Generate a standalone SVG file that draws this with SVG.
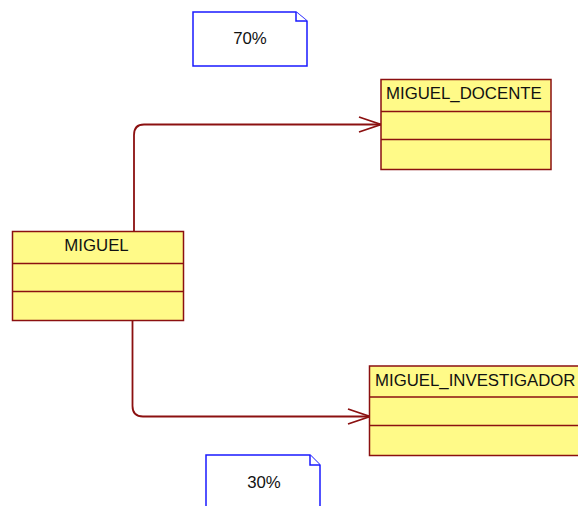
<svg xmlns="http://www.w3.org/2000/svg" width="578" height="506" viewBox="0 0 578 506">
<style>
.cls{fill:#FFFA88;stroke:#8B1010;stroke-width:1.5}
.sep{stroke:#8B1010;stroke-width:1.5}
.note{fill:#FFFFFF;stroke:#1A1AFF;stroke-width:1.5}
.lbl{font-family:"Liberation Sans",Arial,sans-serif;font-size:16.8px;fill:#111111}
.con{fill:none;stroke:#8B1010;stroke-width:1.8}
</style>
<rect width="578" height="506" fill="#FFFFFF"/>
<g id="note70">
<path class="note" d="M193,12 H296 L307,21 V66 H193 Z"/>
<path class="note" d="M296,12 V21 H307"/>
<text class="lbl" x="250" y="44" text-anchor="middle">70%</text>
</g>
<g id="note30">
<path class="note" d="M206,455 H310 L320,465 V510 H206 Z"/>
<path class="note" d="M310,455 V465 H320"/>
<text class="lbl" x="264" y="488" text-anchor="middle">30%</text>
</g>
<g id="connectors">
<path class="con" d="M134,231 V135 Q134,124.5 144,124.5 H381"/>
<path class="con" d="M359,117 L381,124.5 L359,132"/>
<path class="con" d="M132.5,321 V406 Q132.5,416.5 143,416.5 H370"/>
<path class="con" d="M348,409 L370,416.5 L348,424"/>
</g>
<g id="MIGUEL_DOCENTE">
<rect class="cls" x="381" y="79.5" width="170" height="90"/>
<line class="sep" x1="381" y1="111.5" x2="551" y2="111.5"/>
<line class="sep" x1="381" y1="139.5" x2="551" y2="139.5"/>
<text class="lbl" x="386" y="99">MIGUEL_DOCENTE</text>
</g>
<g id="MIGUEL">
<rect class="cls" x="12.5" y="231.5" width="171" height="89"/>
<line class="sep" x1="12.5" y1="263.5" x2="183.5" y2="263.5"/>
<line class="sep" x1="12.5" y1="291.5" x2="183.5" y2="291.5"/>
<text class="lbl" x="96.5" y="251" text-anchor="middle">MIGUEL</text>
</g>
<g id="MIGUEL_INVESTIGADOR">
<rect class="cls" x="369.5" y="366" width="220" height="89.5"/>
<line class="sep" x1="369.5" y1="397" x2="589" y2="397"/>
<line class="sep" x1="369.5" y1="425.5" x2="589" y2="425.5"/>
<text class="lbl" x="375" y="386">MIGUEL_INVESTIGADOR</text>
</g>
</svg>
